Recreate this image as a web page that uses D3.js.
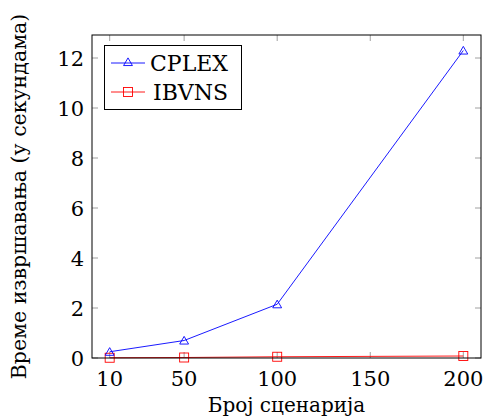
<!DOCTYPE html>
<html>
<head>
<meta charset="utf-8">
<script src="https://cdn.jsdelivr.net/npm/d3@7"></script>
<style>
  body { margin: 0; background: #fff; }
</style>
</head>
<body>
<script>
// scenario counts and running times (seconds)
const scenarios = [10, 50, 100, 200];
const cplex = [0.25, 0.7, 2.15, 12.3];
const ibvns = [0.01, 0.02, 0.05, 0.08];
const xTicks = [10, 50, 100, 150, 200];
const yTicks = [0, 2, 4, 6, 8, 10, 12];

const width = 484, height = 419;
const pLeft = 92, pRight = 481, pTop = 35, pBottom = 358;
const font = "'DejaVu Serif', 'Liberation Serif', serif";

const svg = d3.select("body").append("svg")
  .attr("width", width)
  .attr("height", height)
  .attr("font-family", font);

const x = d3.scaleLinear().domain([0.5, 209.5]).range([pLeft, pRight]);
const y = d3.scaleLinear().domain([0, 12.92]).range([pBottom, pTop]);

// inward ticks on all four sides
const tickLen = 6;
const g = svg.append("g").attr("stroke", "#888").attr("stroke-width", 0.8);
xTicks.forEach(t => {
  g.append("line").attr("x1", x(t)).attr("x2", x(t)).attr("y1", pBottom).attr("y2", pBottom - tickLen);
  g.append("line").attr("x1", x(t)).attr("x2", x(t)).attr("y1", pTop).attr("y2", pTop + tickLen);
});
yTicks.forEach(t => {
  g.append("line").attr("x1", pLeft).attr("x2", pLeft + tickLen).attr("y1", y(t)).attr("y2", y(t));
  g.append("line").attr("x1", pRight).attr("x2", pRight - tickLen).attr("y1", y(t)).attr("y2", y(t));
});

svg.append("g").selectAll("text").data(xTicks).join("text")
  .attr("x", d => x(d)).attr("y", pBottom + 28)
  .attr("text-anchor", "middle").attr("font-size", 21)
  .text(d => d);

svg.append("g").selectAll("text").data(yTicks).join("text")
  .attr("x", pLeft - 8).attr("y", d => y(d) + 7.5)
  .attr("text-anchor", "end").attr("font-size", 21)
  .text(d => d);

const line = d3.line().x(d => x(d[0])).y(d => y(d[1]));

const ibData = scenarios.map((s, i) => [s, ibvns[i]]);
const cpData = scenarios.map((s, i) => [s, cplex[i]]);

svg.append("path").datum(ibData)
  .attr("d", line).attr("fill", "none").attr("stroke", "#f00").attr("stroke-width", 0.9);
svg.append("g").selectAll("rect").data(ibData).join("rect")
  .attr("x", d => x(d[0]) - 4.5).attr("y", d => y(d[1]) - 4.5)
  .attr("width", 9).attr("height", 9)
  .attr("fill", "none").attr("stroke", "#f00").attr("stroke-width", 0.9);

const tri = d3.symbol().type(d3.symbolTriangle).size(34);
svg.append("path").datum(cpData)
  .attr("d", line).attr("fill", "none").attr("stroke", "#00f").attr("stroke-width", 0.9);
svg.append("g").selectAll("path").data(cpData).join("path")
  .attr("transform", d => `translate(${x(d[0])},${y(d[1]) + 1})`)
  .attr("d", tri).attr("fill", "none").attr("stroke", "#00f").attr("stroke-width", 0.9);

// frame
svg.append("rect")
  .attr("x", pLeft).attr("y", pTop)
  .attr("width", pRight - pLeft).attr("height", pBottom - pTop)
  .attr("fill", "none").attr("stroke", "#000").attr("stroke-width", 1);

// legend
const leg = svg.append("g");
leg.append("rect").attr("x", 104.5).attr("y", 45.5).attr("width", 137).attr("height", 64)
  .attr("fill", "#fff").attr("stroke", "#000").attr("stroke-width", 1);
const ly1 = 63, ly2 = 92;
leg.append("line").attr("x1", 111).attr("x2", 145).attr("y1", ly1).attr("y2", ly1)
  .attr("stroke", "#00f").attr("stroke-width", 0.9);
leg.append("path").attr("transform", `translate(128,${ly1})`).attr("d", tri)
  .attr("fill", "none").attr("stroke", "#00f").attr("stroke-width", 0.9);
leg.append("line").attr("x1", 111).attr("x2", 145).attr("y1", ly2).attr("y2", ly2)
  .attr("stroke", "#f00").attr("stroke-width", 0.9);
leg.append("rect").attr("x", 123.5).attr("y", ly2 - 4.5).attr("width", 9).attr("height", 9)
  .attr("fill", "none").attr("stroke", "#f00").attr("stroke-width", 0.9);
leg.append("text").attr("x", 150).attr("y", ly1 + 8).attr("font-size", 22).text("CPLEX");
leg.append("text").attr("x", 153).attr("y", ly2 + 8).attr("font-size", 22).text("IBVNS");

// axis titles
svg.append("text").attr("x", (pLeft + pRight) / 2).attr("y", 412)
  .attr("text-anchor", "middle").attr("font-size", 20).text("Број сценарија");
svg.append("text")
  .attr("transform", `translate(26,${(pTop + pBottom) / 2}) rotate(-90)`)
  .attr("text-anchor", "middle").attr("font-size", 20.5)
  .text("Време извршавања (у секундама)");
</script>
</body>
</html>
